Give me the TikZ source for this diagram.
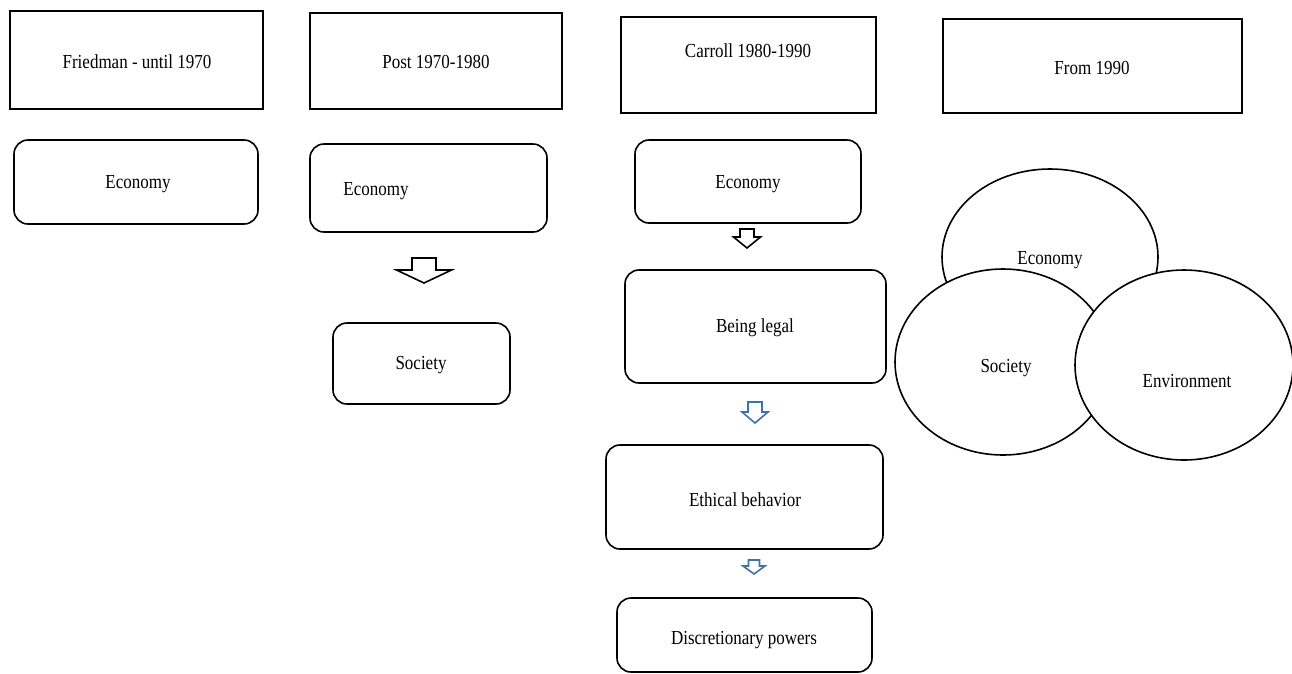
\documentclass[tikz,border=0pt]{standalone}
\usepackage{fontspec}
\setmainfont{Liberation Serif}
\usetikzlibrary{shapes.geometric}
\definecolor{arrowblue}{RGB}{65,113,166}
\newcommand\vtxt[1]{\scalebox{1}[1.17]{#1}}
\tikzset{
  box/.style={draw, line width=1.6pt, inner sep=0pt, rectangle},
  rbox/.style={box, rounded corners=14pt},
  oval/.style={draw, line width=1.6pt, ellipse, fill=white, inner sep=0pt},
  lbl/.style={font=\fontsize{17}{20}\selectfont, inner sep=0pt},
  pics/blockdown/.style n args={4}{code={
    \draw[pic actions] (-#1,0) -- (#1,0) -- (#1,#3) -- (#2,#3) -- (0,#4) -- (-#2,#3) -- (-#1,#3) -- cycle;}},
  blackarrow/.style={draw=black, fill=white, line width=1.6pt, line join=miter},
  bluearrow/.style={draw=arrowblue, fill=white, line width=1.6pt, line join=miter}
}
\begin{document}
\begin{tikzpicture}[x=1pt, y=-1pt]
\useasboundingbox (0,0) rectangle (1292,673);

% header boxes
\node[box, minimum width=253pt, minimum height=98pt] (h1) at (136.5,60) {};
\node[lbl] (h1t) at (137,62) {\vtxt{Friedman - until 1970}};
\node[box, minimum width=252pt, minimum height=96pt] (h2) at (436,61) {};
\node[lbl] (h2t) at (436,62) {\vtxt{Post 1970-1980}};
\node[box, minimum width=255pt, minimum height=96pt] (h3) at (748.5,65) {};
\node[lbl] (h3t) at (748,51) {\vtxt{Carroll 1980-1990}};
\node[box, minimum width=299pt, minimum height=94pt] (h4) at (1092.5,66) {};
\node[lbl] (h4t) at (1092,68) {\vtxt{From 1990}};

% column 1
\node[rbox, minimum width=244pt, minimum height=84pt] (c1e) at (136,182) {};
\node[lbl] (c1et) at (138,184) {\vtxt{Economy}};

% column 2
\node[rbox, minimum width=237pt, minimum height=88pt] (c2e) at (428.5,188) {};
\node[lbl] (c2et) at (376,191) {\vtxt{Economy}};
\pic[blackarrow] (a2) at (424,258) {blockdown={12}{27.5}{12}{25}};
\node[rbox, minimum width=177pt, minimum height=81pt] (c2s) at (421.5,363.5) {};
\node[lbl] (c2st) at (421,365) {\vtxt{Society}};

% column 3
\node[rbox, minimum width=226pt, minimum height=83pt] (c3e) at (748,181.5) {};
\node[lbl] (c3et) at (748,184) {\vtxt{Economy}};
\pic[blackarrow] (a3a) at (747,229) {blockdown={7}{13.5}{8}{19}};
\node[rbox, minimum width=261pt, minimum height=113pt] (c3l) at (755.5,326.5) {};
\node[lbl] (c3lt) at (755,328) {\vtxt{Being legal}};
\pic[bluearrow] (a3b) at (755,402) {blockdown={7}{13}{10}{21}};
\node[rbox, minimum width=277pt, minimum height=104pt] (c3b) at (744.5,497) {};
\node[lbl] (c3bt) at (745,500) {\vtxt{Ethical behavior}};
\pic[bluearrow] (a3c) at (754,560) {blockdown={5.5}{11}{6}{14}};
\node[rbox, minimum width=255pt, minimum height=74pt] (c3d) at (744.5,635) {};
\node[lbl] (c3dt) at (744,640) {\vtxt{Discretionary powers}};

% column 4 (Venn)
\node[oval, minimum width=216pt, minimum height=176pt] (v1) at (1050,257) {};
\node[lbl] (v1t) at (1050,260) {\vtxt{Economy}};
\node[oval, minimum width=216pt, minimum height=186pt] (v2) at (1003,362) {};
\node[lbl] (v2t) at (1006,368) {\vtxt{Society}};
\node[oval, minimum width=218pt, minimum height=190pt] (v3) at (1184,365) {};
\node[lbl] (v3t) at (1187,381) {\vtxt{Environment}};
\end{tikzpicture}
\end{document}
